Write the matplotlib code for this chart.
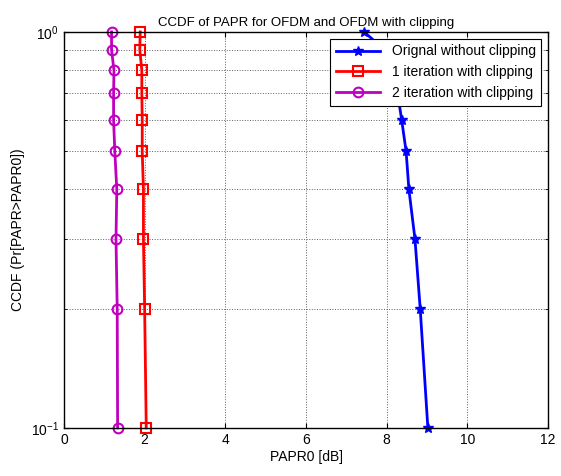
"""CCDF of PAPR for OFDM, with and without clipping (MATLAB-style semilogy)."""

import matplotlib

matplotlib.use("Agg")
import matplotlib.pyplot as plt  # noqa: E402
from matplotlib.ticker import FixedLocator, NullFormatter  # noqa: E402

CCDF_LEVELS = [1.0, 0.9, 0.8, 0.7, 0.6, 0.5, 0.4, 0.3, 0.2, 0.1]
PAPR_ORIGINAL = [7.44, 7.95, 8.15, 8.27, 8.37, 8.48, 8.55, 8.70, 8.83, 9.02]
PAPR_CLIP_1 = [1.89, 1.88, 1.93, 1.93, 1.94, 1.94, 1.97, 1.97, 2.00, 2.04]
PAPR_CLIP_2 = [1.18, 1.18, 1.24, 1.23, 1.23, 1.26, 1.31, 1.29, 1.32, 1.33]

plt.rcParams["font.family"] = ["Liberation Sans", "DejaVu Sans"]
plt.rcParams["font.size"] = 10

fig = plt.figure(figsize=(5.61, 4.76), dpi=100)
ax = fig.add_axes([0.114, 0.101, 0.863, 0.832])

ax.semilogy(PAPR_ORIGINAL, CCDF_LEVELS, "-", color="#0000ff", linewidth=2,
            marker="*", markersize=7, clip_on=False,
            label="Orignal without clipping")
ax.semilogy(PAPR_CLIP_1, CCDF_LEVELS, "-", color="#ff0000", linewidth=2,
            marker="s", markersize=7, markerfacecolor="none", markeredgewidth=1.5,
            clip_on=False, label="1 iteration with clipping")
ax.semilogy(PAPR_CLIP_2, CCDF_LEVELS, "-", color="#bf00bf", linewidth=2,
            marker="o", markersize=7, markerfacecolor="none", markeredgewidth=1.5,
            clip_on=False, label="2 iteration with clipping")

ax.set_xlim(0, 12)
ax.set_ylim(0.1, 1.0)
ax.set_xticks(range(0, 13, 2))
ax.yaxis.set_major_locator(FixedLocator([0.1, 1.0]))
ax.yaxis.set_minor_locator(FixedLocator([0.2, 0.3, 0.4, 0.5, 0.6, 0.7, 0.8, 0.9]))
ax.yaxis.set_minor_formatter(NullFormatter())

ax.tick_params(which="both", direction="in", top=True, right=True, labelsize=10)
ax.grid(True, which="major", linestyle=":", color="#606060", linewidth=0.7)
ax.grid(True, which="minor", axis="y", linestyle=":", color="#606060", linewidth=0.7)
for spine in ax.spines.values():
    spine.set_linewidth(1.0)

ax.set_title("CCDF of PAPR for OFDM and OFDM with clipping", fontsize=9.5, pad=4)
ax.set_xlabel("PAPR0 [dB]", fontsize=10, labelpad=2)
ax.set_ylabel("CCDF (Pr[PAPR>PAPR0])", fontsize=10)

leg = ax.legend(loc="upper right", fontsize=10, fancybox=False, framealpha=1,
                edgecolor="black", borderaxespad=0.5, handlelength=3.2)
leg.get_frame().set_linewidth(0.8)
leg.set_zorder(5)

fig.savefig("out.png", dpi=100)
